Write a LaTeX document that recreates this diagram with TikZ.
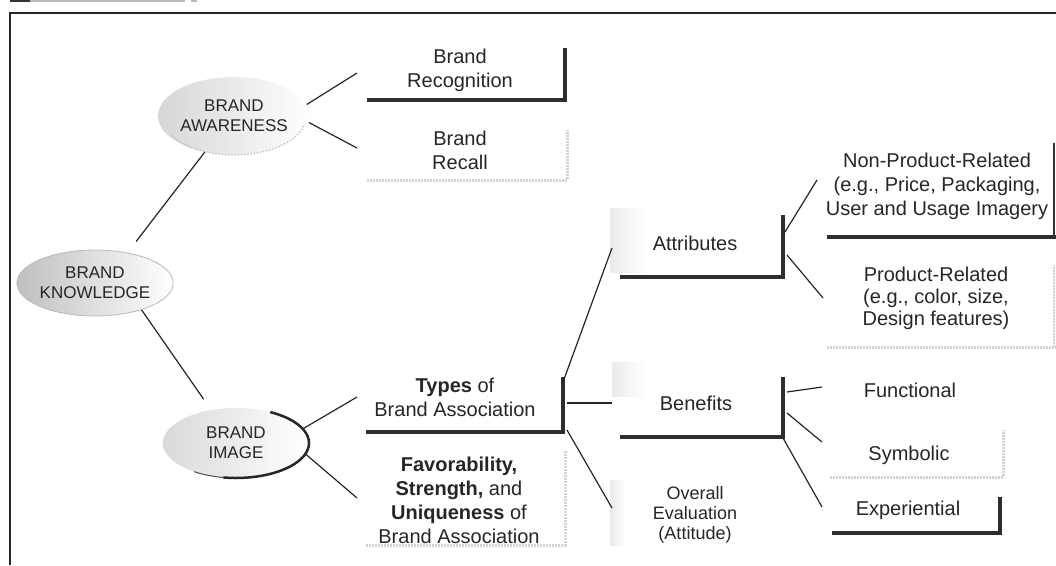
\documentclass[tikz,border=0pt]{standalone}
\usepackage{fontspec}
\setmainfont{Liberation Sans}
\usetikzlibrary{shapes.geometric}
\begin{document}
\begin{tikzpicture}[x=1pt,y=-1pt,
  txt/.style={align=center, text=black!85, font=\fontsize{20}{24}\selectfont, inner sep=0pt},
  smalltxt/.style={align=center, text=black!85, font=\fontsize{18}{20}\selectfont, inner sep=0pt},
  oval/.style={ellipse, inner sep=0pt, align=center, text=black!85, font=\fontsize{17}{20}\selectfont},
  link/.style={line width=1.2pt, black!85},
  heavy/.style={line width=4pt, black!82},
  faint/.style={line width=3pt, gray!35, dash pattern=on 2pt off 1pt},
  haze/.style={left color=gray!16, right color=white, draw=none},
]
\useasboundingbox (0,0) rectangle (1056,565);
\fill[white] (0,0) rectangle (1056,565);

% page remnants and frame
\fill[black!80] (10,0) rectangle (30,2);
\fill[gray!55] (30,0) rectangle (185,2);
\fill[gray!55] (191,0) rectangle (197,2);
\draw[line width=2pt, black!85] (10,565) -- (10,13) -- (1056,13);

% light hazes beside some labels
\shade[haze] (610,208) rectangle (648,272);
\shade[haze] (612,362) rectangle (646,396);
\shade[haze] (610,480) rectangle (626,545);

% ovals
\node[oval, minimum width=144pt, minimum height=78pt, left color=gray!32, right color=white] (aw) at (234,116) {BRAND\\AWARENESS};
\draw[gray!55, line width=1.2pt, dotted] (234,116) ++(15:72 and 39) arc[start angle=15, end angle=150, x radius=72, y radius=39];
\node[oval, minimum width=144pt, minimum height=66pt, left color=gray!50, right color=white, draw=gray!55, line width=0.8pt] (kn) at (95,283) {BRAND\\KNOWLEDGE};
\node[oval, minimum width=146pt, minimum height=70pt, left color=gray!30, right color=white] (im) at (236,443) {BRAND\\IMAGE};
\draw[black!85, line width=2.5pt] (236,443) ++(-62:73 and 35) arc[start angle=-62, end angle=100, x radius=73, y radius=35];
\draw[black!70, line width=1pt] (236,443) ++(100:73 and 35) arc[start angle=100, end angle=125, x radius=73, y radius=35];

% labels
\node[txt] (recog) at (460,70) {Brand\\Recognition};
\node[txt] (recall) at (460,150) {Brand\\Recall};
\node[txt] (types) at (455,397) {\textbf{Types} of\\Brand Association};
\node[txt] (fav) at (459,500) {\textbf{Favorability,}\\\textbf{Strength,} and\\\textbf{Uniqueness} of\\Brand Association};
\node[txt] (attr) at (695,243) {Attributes};
\node[txt] (ben) at (696,403) {Benefits};
\node[smalltxt] (eval) at (695,515) {Overall\\Evaluation\\(Attitude)};
\node[txt] (nonprod) at (937,186) {Non-Product-Related\\(e.g., Price, Packaging,\\User and Usage Imagery};
\node[txt, font=\fontsize{20}{22}\selectfont] (prod) at (936,298) {Product-Related\\(e.g., color, size,\\Design features)};
\node[txt] (func) at (910,390) {Functional};
\node[txt] (symb) at (909,455) {Symbolic};
\node[txt] (exper) at (908,510) {Experiential};

% box edges
\draw[heavy] (367,100) -- (565,100) -- (565,48);
\draw[faint] (367,180) -- (567,180) -- (567,130);
\draw[heavy] (366,432) -- (563,432) -- (563,377);
\draw[faint] (366,545) -- (565,545) -- (565,450);
\draw[heavy] (620,277) -- (783,277) -- (783,215);
\draw[heavy] (620,437) -- (783,437) -- (783,377);
\draw[heavy] (827,237) -- (1056,237);
\draw[line width=2pt, black!80] (1054,237) -- (1054,143);
\draw[faint] (827,347) -- (1056,347);
\draw[faint, line width=1.5pt] (1054,347) -- (1054,265);
\draw[faint] (830,477) -- (1003,477) -- (1003,430);
\draw[heavy] (832,533) -- (1000,533) -- (1000,497);

% connector ends
\coordinate (recogIn) at (357,73);
\coordinate (recallIn) at (357,148);
\coordinate (typesIn) at (357,397);
\coordinate (favIn) at (357,498);
\coordinate (typesOutA) at (563,382);
\coordinate (typesOutB) at (567,403);
\coordinate (typesOutC) at (567,430);
\coordinate (attrIn) at (612,248);
\coordinate (benIn) at (612,403);
\coordinate (evalIn) at (612,508);
\coordinate (attrOutA) at (785,232);
\coordinate (attrOutB) at (787,255);
\coordinate (nonprodIn) at (817,180);
\coordinate (prodIn) at (823,298);
\coordinate (benOutA) at (787,392);
\coordinate (benOutB) at (787,413);
\coordinate (benOutC) at (783,438);
\coordinate (funcIn) at (822,387);
\coordinate (symbIn) at (822,442);
\coordinate (experIn) at (822,507);

% connectors
\draw[link, shorten <=14pt] (kn.43) -- (aw.231);
\draw[link, shorten >=13pt] (kn.-30) -- (im.127);
\draw[link] (aw.9) -- (recogIn);
\draw[link] (aw.-5) -- (recallIn);
\draw[link] (im.12) -- (typesIn);
\draw[link] (im.-9) -- (favIn);
\draw[link] (typesOutA) -- (attrIn);
\draw[link] (typesOutB) -- (benIn);
\draw[link] (typesOutC) -- (evalIn);
\draw[link] (attrOutA) -- (nonprodIn);
\draw[link] (attrOutB) -- (prodIn);
\draw[link] (benOutA) -- (funcIn);
\draw[link] (benOutB) -- (symbIn);
\draw[link] (benOutC) -- (experIn);
\end{tikzpicture}
\end{document}
